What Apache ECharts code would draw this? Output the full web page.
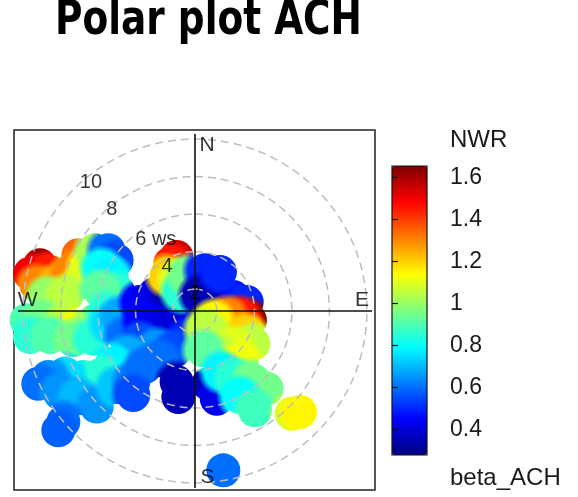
<!DOCTYPE html>
<html><head><meta charset="utf-8">
<script src="https://cdn.jsdelivr.net/npm/echarts@6/dist/echarts.min.js"></script>
<style>html,body{margin:0;padding:0;background:#fff}#c{width:578px;height:497px}</style>
</head><body><div id="c"></div><script>
// ---- text ----
const titleText = 'Polar plot ACH';
const pollutantName = 'NWR';
const legendCaption = 'beta_ACH';
const ringSpeeds = [2, 4, 6, 8, 10];
const ringLabels = ['2', '4', '6 ws', '8', '10'];
const compassLabels = ['N', 'E', 'S', 'W'];
const colourTicks = [0.4, 0.6, 0.8, 1, 1.2, 1.4, 1.6];
const colourMin = 0.278, colourMax = 1.655;
const wsAtCentre = 0.83;
// ---- surface samples: east component, north component, value ----
const blobU = [-8.27,-8.80,-7.73,-8.44,-7.29,-6.22,-6.58,-5.69,-5.96,-5.33,-4.62,-4.18,-4.98,-4.44,-4.09,-7.91,-6.84,-5.07,
  -8.98,-8.09,-6.93,-6.13,-5.33,-4.71,-8.80,-7.73,-6.49,-5.42,-4.53,-4.00,-3.73,
  -2.93,-2.13,-1.42,-0.71,-2.76,-1.87,-0.98,-0.36,-2.93,-2.04,-1.07,-3.64,-4.44,-5.07,-5.96,-6.93,-7.82,-8.36,-7.20,-6.22,-5.24,-4.18,-3.29,-2.67,-1.87,-7.02,-3.29,-7.29,
  -0.98,-0.89,0.71,1.16,
  -0.98,-1.33,-1.51,-0.89,-0.71,-0.36,
  0.53,1.16,2.04,2.76,0.27,1.33,
  2.93,2.40,1.69,0.98,0.53,2.76,3.11,
  0.98,2.04,1.16,2.49,0.44,1.42,2.13,3.11,3.82,2.40,3.20,
  5.16,5.60,1.51];
const blobV = [2.44,1.99,2.08,1.37,1.46,2.97,2.17,2.35,1.55,3.24,3.24,2.70,2.26,1.81,1.01,0.75,0.84,1.10,
  -0.50,-0.50,-0.68,-0.85,-0.50,-0.05,-1.39,-1.39,-1.55,-1.48,-0.68,-0.32,-1.39,
  0.48,0.92,0.30,-0.05,-0.50,-0.85,-0.76,-1.48,-1.65,-2.01,-2.10,-2.36,-2.81,-3.43,-3.52,-3.34,-3.52,-3.88,-4.39,-4.66,-5.10,-4.05,-3.79,-2.99,-2.63,-5.92,-4.48,-6.36,
  -3.79,-4.59,-3.88,-4.68,
  2.88,2.52,1.90,1.64,1.01,1.90,
  2.17,1.37,0.75,0.48,0.84,2.08,
  -0.50,-0.32,-0.32,-0.50,-0.94,-1.21,-1.74,
  -1.48,-1.92,-2.28,-2.72,-2.10,-3.25,-3.61,-3.70,-4.14,-4.59,-5.30,
  -5.48,-5.39,-8.50];
const blobVal = [1.63,1.50,1.45,1.30,1.25,1.35,1.30,1.12,1.10,1.02,0.60,0.55,0.80,0.78,0.85,1.00,1.05,0.92,
  0.90,0.95,1.05,1.12,1.00,0.85,0.85,0.90,0.95,0.85,0.75,0.68,0.60,
  0.45,0.42,0.35,0.30,0.45,0.42,0.40,0.50,0.55,0.65,0.55,0.68,0.78,0.85,0.85,0.75,0.65,0.60,0.65,0.70,0.65,0.72,0.62,0.60,0.60,0.60,0.55,0.58,
  0.35,0.35,0.35,0.42,
  1.55,1.45,1.20,1.10,0.85,0.95,
  0.50,0.42,0.45,0.50,0.35,0.50,
  1.62,1.45,1.30,1.15,1.05,1.20,1.05,
  1.05,1.10,1.05,1.12,0.92,0.78,0.85,0.95,0.95,0.80,0.88,
  1.08,1.15,0.60];

// ---- layout ----
const jet = ['#00007F','#0000FF','#007FFF','#00FFFF','#7FFF7F','#FFFF00','#FF7F00','#FF0000','#7F0000'];
const ringLabelPos = [[0,0.91],[-1.49,2.40],[-2.09,3.84],[-4.43,5.39],[-5.55,6.88]];
const compassPos = [[0.64,8.85],[8.91,0.59],[0.67,-8.88],[-8.93,0.59]];
const axisHalf = 9.44;
const lobeRadius = 17;   // crisp outline of the surface
const blendRadius = 24;  // soft colour spread inside it
const FONT = '"Liberation Sans", Arial, sans-serif';

const blobData = blobVal.map((v, i) => [blobU[i], blobV[i], v]);
const ringSeries = ringSpeeds.map(w => {
  const r = w - wsAtCentre, pts = [];
  for (let a = 0; a <= 360; a += 3) {
    const t = a * Math.PI / 180;
    pts.push([r * Math.sin(t), r * Math.cos(t)]);
  }
  return {type:'line', xAxisIndex:0, yAxisIndex:0, data: pts, symbol:'none', silent:true, zlevel:2, z:3,
    lineStyle:{color:'#bdbdbd', width:1.5, type:[8,5]}};
});

const chart = echarts.init(document.getElementById('c'), null, {renderer:'canvas'});
chart.setOption({
  animation: false,
  backgroundColor: '#fff',
  grid: [
    {left:14, top:130, width:361, height:360, show:true, borderColor:'#222', borderWidth:1.5, backgroundColor:'transparent', z:5},
    {left:392, top:166, width:35, height:289, show:true, borderColor:'#111', borderWidth:1.2, backgroundColor:'transparent', z:10}
  ],
  xAxis: [
    {type:'value', gridIndex:0, min:-9.653, max:9.6, show:false},
    {type:'value', gridIndex:1, min:0, max:1, show:false}
  ],
  yAxis: [
    {type:'value', gridIndex:0, min:-9.547, max:9.653, show:false},
    {type:'value', gridIndex:1, min:colourMin, max:colourMax, position:'right', z:10,
      axisLine:{show:false}, splitLine:{show:false},
      axisTick:{show:true, length:6, customValues: colourTicks, lineStyle:{color:'#111', width:1.2}},
      axisLabel:{show:true, customValues: colourTicks, margin:23, fontSize:23, color:'#1a1a1a', fontFamily:FONT}}
  ],
  visualMap: {
    type:'continuous', min:colourMin, max:colourMax, dimension:2, seriesIndex:0,
    calculable:false, hoverLink:false, text:null, showLabel:false,
    left:392, top:166, itemWidth:35, itemHeight:289, padding:0,
    inRange:{color: jet}
  },
  series: [
    // colour field: soft discs, opaque inside lobeRadius
    {type:'custom', xAxisIndex:0, yAxisIndex:0, data: blobData, silent:true, zlevel:1, z:1,
      renderItem: (params, api) => {
        const p = api.coord([api.value(0), api.value(1)]);
        const c = api.visual('color');
        return {type:'circle', shape:{cx:p[0], cy:p[1], r:blendRadius},
          style:{fill:{type:'radial', x:0.5, y:0.5, r:0.5, colorStops:[
            {offset:0, color:c}, {offset:lobeRadius / blendRadius, color:c},
            {offset:1, color:echarts.color.modifyAlpha(c, 0)}]}}};
      }},
    // crisp outline: keep the field only inside the union of lobes
    {type:'custom', xAxisIndex:0, yAxisIndex:0, data: [[0]], silent:true, zlevel:1, z:5,
      renderItem: (params, api) => {
        let d = '';
        blobData.forEach(b => {
          const p = api.coord([b[0], b[1]]);
          const r = lobeRadius;
          d += 'M' + (p[0] + r) + ' ' + p[1] + 'A' + r + ' ' + r + ' 0 1 0 ' + (p[0] - r) + ' ' + p[1]
             + 'A' + r + ' ' + r + ' 0 1 0 ' + (p[0] + r) + ' ' + p[1] + 'Z';
        });
        return {type:'path', name:'lobeMask', shape:{pathData:d}, style:{fill:'#000'}};
      }},
    ...ringSeries,
    {type:'line', xAxisIndex:0, yAxisIndex:0, data:[[-axisHalf,0],[axisHalf,0]], symbol:'none', silent:true, zlevel:2, z:4, lineStyle:{color:'#111', width:1.6}},
    {type:'line', xAxisIndex:0, yAxisIndex:0, data:[[0,-axisHalf],[0,axisHalf]], symbol:'none', silent:true, zlevel:2, z:4, lineStyle:{color:'#111', width:1.6}},
    {type:'scatter', xAxisIndex:0, yAxisIndex:0, symbolSize:0, silent:true, zlevel:2, z:6,
      data: ringLabels.map((t, i) => ({name:t, value: ringLabelPos[i]})),
      label:{show:true, position:'inside', formatter:'{b}', fontSize:20, color:'#000', fontFamily:FONT}},
    {type:'scatter', xAxisIndex:0, yAxisIndex:0, symbolSize:0, silent:true, zlevel:2, z:6,
      data: compassLabels.map((t, i) => ({name:t, value: compassPos[i]})),
      label:{show:true, position:'inside', formatter:'{b}', fontSize:21, color:'#000', fontFamily:FONT}}
  ],
  graphic: [
    {type:'text', x:208.5, y:21.5, scaleX:0.78, style:{text:titleText, font:'bold 48px "DejaVu Sans", sans-serif', fill:'#000', textAlign:'center', textVerticalAlign:'middle'}},
    {type:'text', x:450, y:140.6, style:{text:pollutantName, font:'24px ' + FONT, fill:'#1a1a1a', textAlign:'left', textVerticalAlign:'middle'}},
    {type:'text', x:450, y:478.6, style:{text:legendCaption, font:'24px ' + FONT, fill:'#1a1a1a', textAlign:'left', textVerticalAlign:'middle'}}
  ]
});
// turn the outline path into a mask on its own layer
const zr = chart.getZr();
zr.storage.getDisplayList(true).forEach(el => {
  if (el.name === 'lobeMask') { el.style.blend = 'destination-in'; el.markRedraw(); }
});
zr.refreshImmediately();
</script></body></html>
